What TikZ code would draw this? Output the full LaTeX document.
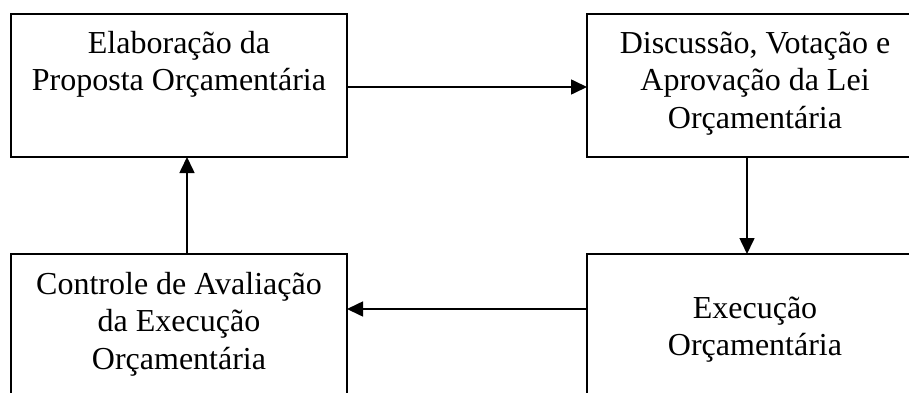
\documentclass[tikz,border=0pt]{standalone}
\usepackage{fontspec}
\setmainfont{Liberation Serif}
\usetikzlibrary{arrows.meta}
\tikzset{
  box/.style={draw=black, line width=2pt, rectangle, inner sep=0pt, outer sep=0pt, anchor=north west},
  arr/.style={line width=1.6pt, -{Triangle[length=16pt, width=15pt]}},
  lbl/.style={anchor=base, inner sep=0pt, font=\fontsize{32}{37.5}\selectfont}
}
\newcommand{\mylines}[1]{\begin{tabular}[t]{@{}c@{}}#1\end{tabular}}
\begin{document}
\begin{tikzpicture}[x=1pt, y=1pt]
\useasboundingbox (0,0) rectangle (909,392);
\clip (0,0) rectangle (909,392);
\fill[white] (0,0) rectangle (909,392);
% boxes
\node[box, minimum width=336pt, minimum height=143pt] (tl) at (11,378) {};
\node[box, minimum width=336pt, minimum height=143pt] (tr) at (587,378) {};
\node[box, minimum width=336pt, minimum height=150pt] (bl) at (11,138) {};
\node[box, minimum width=336pt, minimum height=150pt] (br) at (587,138) {};
% texts
\node[lbl] (tltext) at (179,339) {\mylines{Elaboração da\\Proposta Orçamentária}};
\node[lbl] (trtext) at (755,339) {\mylines{Discussão, Votação e\\Aprovação da Lei\\Orçamentária}};
\node[lbl] (bltext) at (179,98) {\mylines{Controle de Avaliação\\da Execução\\Orçamentária}};
\node[lbl] (brtext) at (755,74) {\mylines{Execução\\Orçamentária}};
% connector guides
\coordinate (a1) at (0,305);
\coordinate (a2) at (747,0);
\coordinate (a3) at (0,83);
\coordinate (a4) at (187,0);
% connectors
\draw[arr] (tl.east |- a1) -- (tr.west |- a1);
\draw[arr] (tr.south -| a2) -- (br.north -| a2);
\draw[arr] (br.west |- a3) -- (bl.east |- a3);
\draw[arr] (bl.north -| a4) -- (tl.south -| a4);
\end{tikzpicture}
\end{document}
